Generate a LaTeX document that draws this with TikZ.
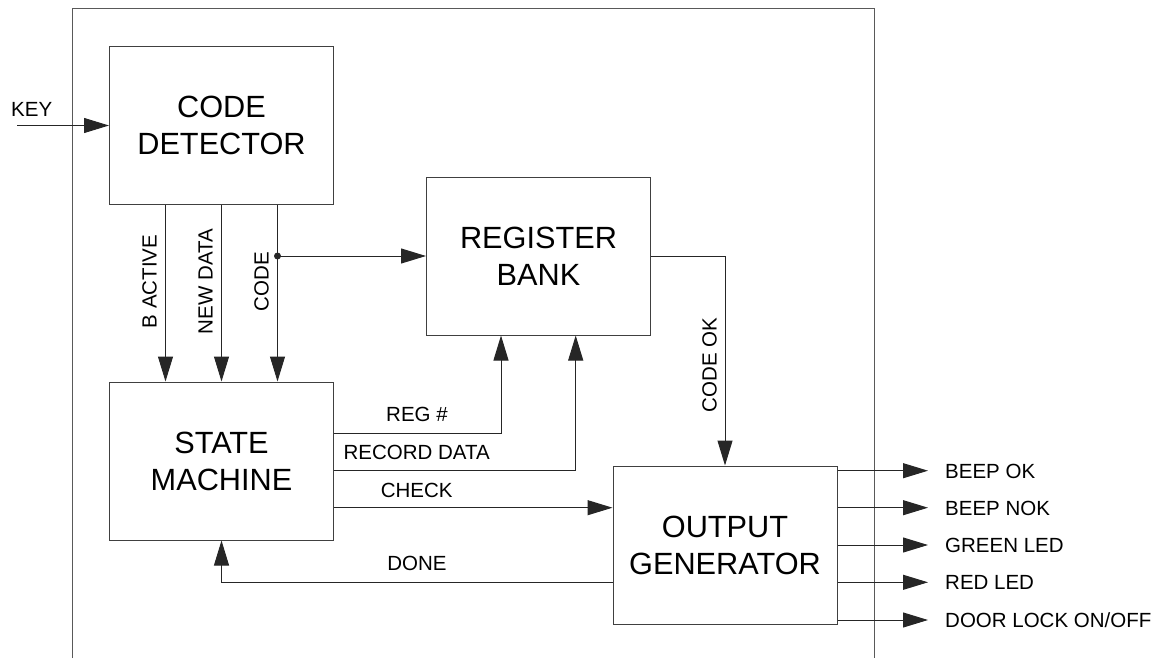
\documentclass[tikz,border=0pt]{standalone}
\usepackage{fontspec}
\setmainfont{Liberation Sans}
\usetikzlibrary{positioning,arrows.meta}

\tikzset{
  block/.style={draw=black!75, line width=1pt, minimum width=224pt, minimum height=158pt,
    inner sep=0pt, align=center, font=\fontsize{30.7}{37}\selectfont},
  arr/.style={-{Triangle[length=25pt,width=15pt]}, line width=1pt, draw=black!85},
  lbl/.style={inner sep=0pt, font=\fontsize{20.5}{24}\selectfont},
}

\begin{document}
\begin{tikzpicture}[x=1pt,y=-1pt]
  \useasboundingbox (0,0) rectangle (1155,658);
  \draw[black!65, line width=1pt] (72.5,658) -- (72.5,9) -- (874,9) -- (874,658);

  \node[block] (code) at (221.5,125.5) {CODE\\DETECTOR};
  \node[block] (bank) at (538.5,256) {REGISTER\\BANK};
  \node[block] (state) at (221.5,461) {STATE\\MACHINE};
  \node[block] (out) at (725,545) {OUTPUT\\GENERATOR};

  \coordinate (kin) at (17,125.5);
  \node[lbl, anchor=base] (key) at (31.7,116.7) {KEY};
  \draw[arr] (kin) -- (code.west);

  \draw[arr] ([xshift=-56pt]code.south) -- ([xshift=-56pt]state.north);
  \draw[arr] (code.south) -- (state.north);
  \coordinate (cd) at ([xshift=56pt]code.south);
  \draw[arr] (cd) -- (cd |- state.north);
  \fill[black!85] (cd |- bank.west) circle (3.5pt);
  \draw[arr] (cd |- bank.west) -- (bank.west);
  \node[lbl, rotate=90, anchor=base] (bact) at (156.7,281.5) {B ACTIVE};
  \node[lbl, rotate=90, anchor=base] (ndata) at (212.7,281.5) {NEW DATA};
  \node[lbl, rotate=90, anchor=base] (cdlbl) at (268.5,281.5) {CODE};

  \draw[arr] ([yshift=27.7pt]state.east) -| ([xshift=-37.5pt]bank.south);
  \draw[arr] ([yshift=-9.7pt]state.east) -| ([xshift=37.2pt]bank.south);
  \draw[arr] ([yshift=-46.7pt]state.east) -- ([yshift=37.3pt]out.west);
  \draw[arr] ([yshift=-37.3pt]out.west) -| (state.south);
  \node[lbl, anchor=base] (reg) at (417,421.7) {REG \#};
  \node[lbl, anchor=base] (rec) at (416.7,459) {RECORD DATA};
  \node[lbl, anchor=base] (chk) at (416.7,497.3) {CHECK};
  \node[lbl, anchor=base] (done) at (417,570.7) {DONE};

  \draw[arr] (bank.east) -| (out.north);
  \node[lbl, rotate=90, anchor=base] (ok) at (716.7,365) {CODE OK};

  \coordinate (o1) at (928,470.7);
  \coordinate (o2) at (928,507.7);
  \coordinate (o3) at (928,545);
  \coordinate (o4) at (928,582.3);
  \coordinate (o5) at (928,620);
  \draw[arr] (out.east |- o1) -- (o1);
  \draw[arr] (out.east |- o2) -- (o2);
  \draw[arr] (out.east |- o3) -- (o3);
  \draw[arr] (out.east |- o4) -- (o4);
  \draw[arr] (out.east |- o5) -- (o5);
  \node[lbl, anchor=base west] (beepok) at (945,478) {BEEP OK};
  \node[lbl, anchor=base west] (beepnok) at (945,515) {BEEP NOK};
  \node[lbl, anchor=base west] (green) at (945,552.3) {GREEN LED};
  \node[lbl, anchor=base west] (red) at (945,589.6) {RED LED};
  \node[lbl, anchor=base west] (door) at (945,627.3) {DOOR LOCK ON/OFF};
\end{tikzpicture}
\end{document}
